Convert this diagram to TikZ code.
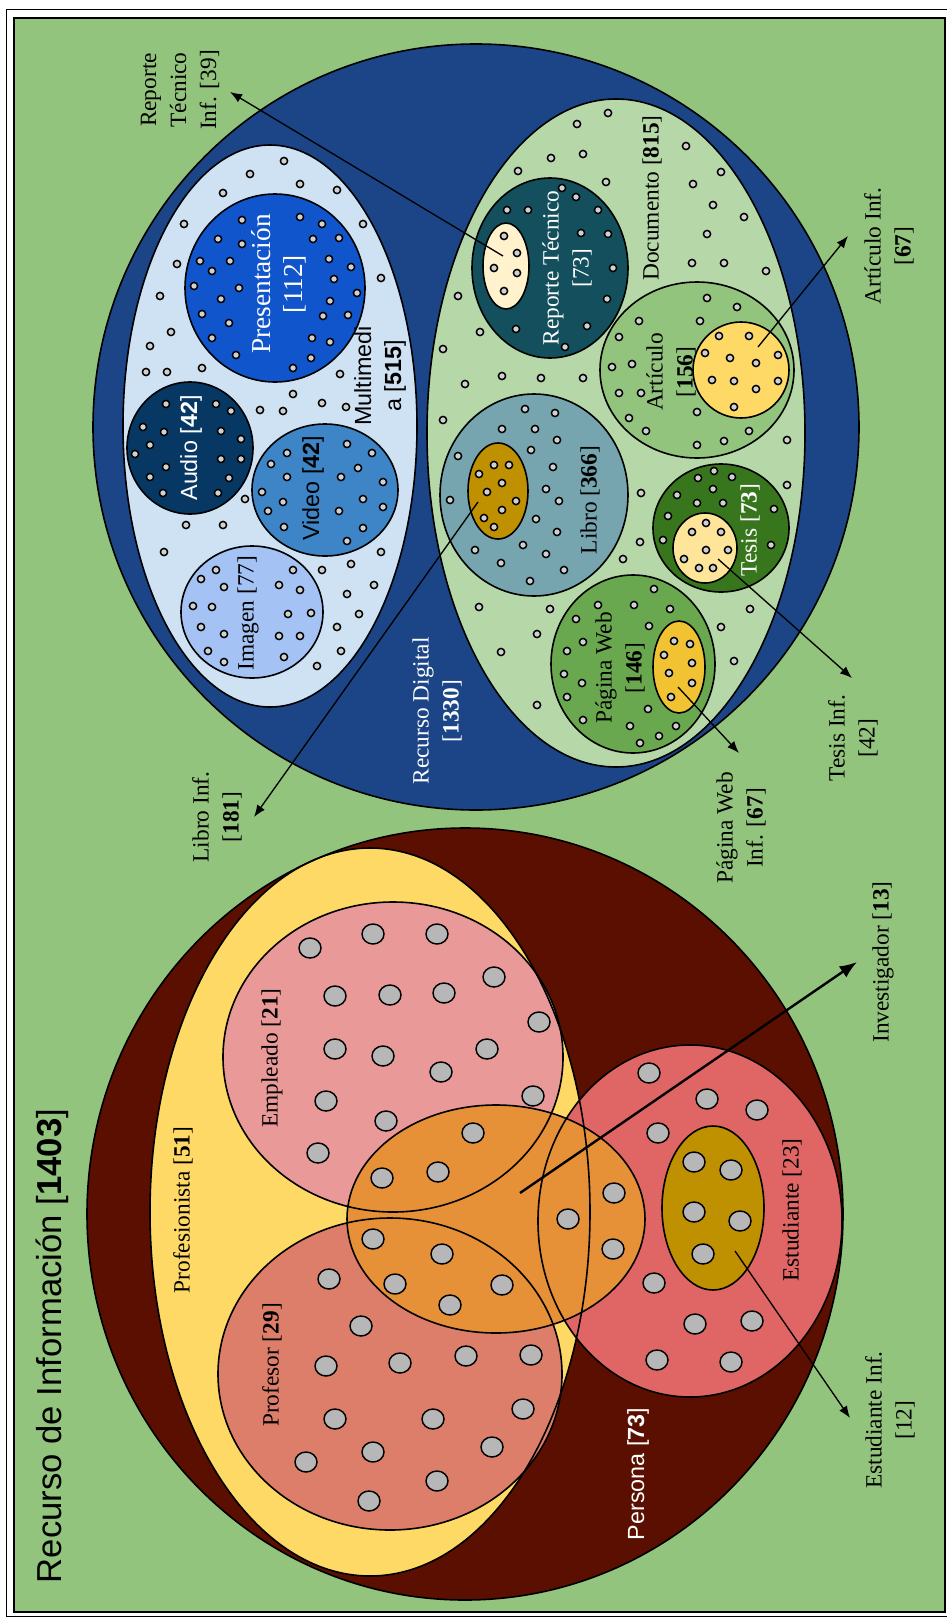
\documentclass[tikz,border=0pt]{standalone}
\usepackage{fontspec}
\setmainfont{Liberation Serif}
\setsansfont{Liberation Sans}
\usetikzlibrary{arrows.meta}
\definecolor{FondoClr}{HTML}{93C47D}
\definecolor{DigitalClr}{HTML}{1C4587}
\definecolor{MultiClr}{HTML}{CFE2F3}
\definecolor{PresClr}{HTML}{1155CC}
\definecolor{AudioClr}{HTML}{073763}
\definecolor{VideoClr}{HTML}{3D85C6}
\definecolor{ImagenClr}{HTML}{A4C2F4}
\definecolor{DocClr}{HTML}{B6D7A8}
\definecolor{ReporteClr}{HTML}{134F5C}
\definecolor{RepInfClr}{HTML}{FFF2CC}
\definecolor{ArticuloClr}{HTML}{93C47D}
\definecolor{ArtInfClr}{HTML}{FFD966}
\definecolor{LibroClr}{HTML}{76A5AF}
\definecolor{LibInfClr}{HTML}{BF9000}
\definecolor{TesisClr}{HTML}{38761D}
\definecolor{TesInfClr}{HTML}{FFE599}
\definecolor{PaginaClr}{HTML}{6AA84F}
\definecolor{PagInfClr}{HTML}{F1C232}
\definecolor{PersonaClr}{HTML}{5B0F00}
\definecolor{ProfesionistaClr}{HTML}{FFD966}
\definecolor{EmpleadoClr}{HTML}{EA9999}
\definecolor{ProfesorClr}{HTML}{DD7E6B}
\definecolor{EstudianteClr}{HTML}{E06666}
\definecolor{InvestigadorClr}{HTML}{E69138}
\definecolor{EstInfClr}{HTML}{BF9000}
\definecolor{PtoClr}{HTML}{D0D0D0}
\definecolor{PtoGClr}{HTML}{B7B7B7}
\newcommand{\lblsize}{\fontsize{17.5}{22.5}\selectfont}
\newcommand{\titsize}{\fontsize{26}{30}\selectfont}
\newcommand{\pressize}{\fontsize{20.5}{24}\selectfont}

\begin{document}
\begin{tikzpicture}[x=0.75pt,y=-0.75pt,
  conj/.style={draw=black,line width=1.2pt},
  pto/.style={draw=black,fill=PtoClr,line width=1.1pt},
  ptog/.style={draw=black,fill=PtoGClr,line width=1.1pt},
  lbl/.style={rotate=90,align=center,inner sep=0pt,font=\lblsize},
  lblsf/.style={rotate=90,align=center,inner sep=0pt,font=\sffamily\lblsize},
  inf/.style={line width=1pt,-{Latex[length=9pt,width=7pt]}},
  infg/.style={line width=1.8pt,-{Latex[length=13pt,width=10pt]}}]
\useasboundingbox (0,0) rectangle (946,1617);
\draw[fill=white,line width=0.6pt] (6,9) rectangle (960,1616);
\draw[fill=FondoClr,line width=1.2pt] (14,18) rectangle (945,1612);

% Recurso Digital
\filldraw[conj,fill=DigitalClr] (476,427) circle (383);
\filldraw[conj,fill=MultiClr] (270,426) ellipse (147 and 281);
\filldraw[conj,fill=PresClr] (275,288) ellipse (90 and 94);
\filldraw[conj,fill=AudioClr] (190,448) ellipse (63 and 66);
\filldraw[conj,fill=VideoClr] (325,490) ellipse (73 and 66);
\filldraw[conj,fill=ImagenClr] (252,612) ellipse (71 and 66);
\filldraw[conj,fill=DocClr] (616,433) ellipse (189 and 334);
\filldraw[conj,fill=ReporteClr] (550,268) ellipse (78 and 90);
\filldraw[conj,fill=RepInfClr] (506,266) ellipse (23 and 43);
\filldraw[conj,fill=ArticuloClr] (697,370) ellipse (97 and 88);
\filldraw[conj,fill=ArtInfClr] (741,370) ellipse (48 and 48);
\filldraw[conj,fill=LibroClr] (534,495) ellipse (94 and 101);
\filldraw[conj,fill=LibInfClr] (498,491) ellipse (30 and 48);
\filldraw[conj,fill=TesisClr] (721,528) ellipse (68 and 64);
\filldraw[conj,fill=TesInfClr] (705,548) ellipse (32 and 35);
\filldraw[conj,fill=PaginaClr] (633,664) ellipse (82 and 89);
\filldraw[conj,fill=PagInfClr] (679,667) ellipse (26 and 46);

% puntos pequenos
\foreach \x/\y in {284/161,250/174,300/184,337/190,223/193,184/224,363/224,177/264,381/278,
  160/296,171/332,150/346,146/372,167/372,202/368,340/374,293/394,260/410,283/411,322/403,
  346/407,245/499,186/525,223/525,164/552,381/552,322/570,351/564,374/585,347/594,359/614,
  337/627,341/651,317/666,
  242/220,218/239,242/244,200/261,230/261,212/271,194/286,239/288,221/299,202/314,229/323,
  212/338,236/355,300/217,322/224,313/239,339/238,329/259,351/267,334/279,357/293,330/301,
  323/316,348/315,312/338,330/342,311/358,293/368,
  166/404,216/404,231/411,143/427,164/432,221/431,241/439,150/445,135/454,221/459,241/459,
  166/467,150/477,229/478,163/493,218/493,
  287/453,347/444,372/453,271/464,358/468,287/477,341/477,383/482,262/492,363/499,283/502,
  383/507,268/511,339/511,284/527,363/528,347/541,
  216/570,201/579,293/570,224/587,279/585,300/590,193/606,212/607,288/614,311/613,201/627,
  224/634,279/636,300/636,208/651,224/662,284/657}
  \filldraw[pto] (\x,\y) circle (3.6);
\foreach \x/\y in {608/113,577/124,583/154,551/158,518/171,606/182,686/146,721/172,693/184,
  713/205,744/217,707/234,692/263,724/263,766/271,458/296,480/332,443/349,465/384,502/376,
  541/378,583/378,443/420,787/440,787/485,641/493,640/542,623/559,479/607,550/609,537/634,
  501/652,537/705,750/609,721/627,734/661,
  562/188,576/197,507/210,528/210,598/210,581/233,608/234,613/268,607/299,587/326,516/329,
  565/347,504/236,517/253,494/268,517/273,504/291,
  707/298,737/307,639/321,700/321,619/337,632/364,612/367,619/393,641/393,629/418,646/431,
  697/412,697/445,724/441,749/431,
  719/336,749/336,705/353,730/358,756/363,778/355,712/380,734/381,756/389,778/381,734/407,
  525/409,555/413,502/429,535/429,557/440,531/450,458/456,553/467,450/500,546/489,559/501,
  536/519,557/532,523/545,475/550,546/554,501/563,564/570,530/581,
  494/465,509/465,479/474,502/483,487/492,516/501,502/510,484/518,494/527,
  714/471,698/478,732/477,713/489,677/495,697/503,723/503,774/509,668/516,663/540,771/545,
  706/523,692/532,721/532,706/550,728/550,684/559,699/568,713/568,
  654/589,598/605,634/605,670/609,576/619,649/626,583/642,567/651,582/683,564/674,567/697,
  583/720,630/726,648/709,659/736,640/743,676/726,
  674/641,690/644,664/655,692/663,669/673,692/683,671/697}
  \filldraw[pto] (\x,\y) circle (3.6);

% Persona: primero rellenos, luego bordes
\foreach \cx/\cy/\rx/\ry/\clr in {465/1214/378/386/PersonaClr,370/1212/220/364/ProfesionistaClr,
  393/1057/170/155/EmpleadoClr,390/1374/172/156/ProfesorClr,690/1221/152/176/EstudianteClr,
  496/1219/149/114/InvestigadorClr,713/1208/51/82/EstInfClr}
  \fill[\clr] (\cx,\cy) ellipse [x radius=\rx, y radius=\ry];
\foreach \cx/\cy/\rx/\ry in {465/1214/378/386,370/1212/220/364,393/1057/170/155,
  390/1374/172/156,690/1221/152/176,496/1219/149/114,713/1208/51/82}
  \draw[conj] (\cx,\cy) ellipse [x radius=\rx, y radius=\ry];
\foreach \x/\y in {310/948,373/934,437/934,335/996,390/995,444/993,494/977,539/1022,335/1049,
  383/1056,441/1072,487/1049,533/1096,326/1101,386/1121,318/1153,473/1133,438/1172,382/1178,
  568/1219,614/1193,613/1249,502/1285,373/1239,442/1254,395/1284,450/1305,
  329/1279,361/1326,326/1366,400/1363,466/1356,531/1355,335/1419,433/1419,492/1447,523/1409,
  306/1462,373/1452,437/1481,369/1501,
  649/1073,707/1099,757/1110,658/1133,654/1283,695/1324,752/1321,657/1360,731/1362,
  694/1162,731/1170,694/1212,740/1221,703/1254}
  \filldraw[ptog] (\x,\y) ellipse (11 and 10);

% etiquetas
\node[lblsf,font=\sffamily\titsize] (titulo) at (52,1346) {Recurso de Informaci\'on [\textbf{1403}]};
\node[lbl] (profesionista) at (183,1210) {Profesionista [\textbf{51}]};
\node[lbl] (empleado) at (272,1058) {Empleado [\textbf{21}]};
\node[lbl] (profesor) at (272,1365) {Profesor [\textbf{29}]};
\node[lbl] (estudiante) at (792,1210) {Estudiante [23]};
\node[lblsf,white] (persona) at (638,1474) {Persona [\textbf{73}]};
\node[lbl] (investigador) at (883,962) {Investigador [\textbf{13}]};
\node[lbl] (estinf) at (890,1420) {Estudiante Inf.\\{}[12]};
\node[lbl] (repinf) at (180,90) {Reporte\\T\'ecnico\\Inf. [39]};
\node[lbl] (artinf) at (889,246) {Art\'iculo Inf.\\{}[\textbf{67}]};
\node[lbl] (documento) at (652,198) {Documento [\textbf{815}]};
\node[lbl,white] (reporte) at (567,268) {Reporte T\'ecnico\\{}[73]};
\node[lbl] (articulo) at (671,372) {Art\'iculo\\{}[\textbf{156}]};
\node[lbl] (libro) at (590,500) {Libro [\textbf{366}]};
\node[lbl,white] (tesis) at (750,530) {Tesis [\textbf{73}]};
\node[lbl] (pagina) at (620,668) {P\'agina Web\\{}[\textbf{146}]};
\node[lbl] (tesinf) at (853,738) {Tesis Inf.\\{}[42]};
\node[lbl] (paginf) at (741,828) {P\'agina Web\\Inf. [\textbf{67}]};
\node[lbl] (libinf) at (217,817) {Libro Inf.\\{}[\textbf{181}]};
\node[lbl,white] (digital) at (437,711) {Recurso Digital\\{}[\textbf{1330}]};
\node[lblsf] (multimedia) at (380,376) {Multimedi\\a [\textbf{515}]};
\node[lbl,white,font=\pressize] (presentacion) at (279,284) {Presentaci\'on\\{}[112]};
\node[lblsf,white] (audio) at (191,448) {Audio [\textbf{42}]};
\node[lblsf] (video) at (313,488) {Video [\textbf{42}]};
\node[lbl] (imagen) at (248,613) {Imagen [77]};

% flechas
\coordinate (repini) at (503,256);  \coordinate (repfin) at (230,92);
\coordinate (artini) at (758,347);  \coordinate (artfin) at (848,236);
\coordinate (libini) at (478,502);  \coordinate (libfin) at (254,817);
\coordinate (tesini) at (718,559);  \coordinate (tesfin) at (852,678);
\coordinate (pagini) at (678,687);  \coordinate (pagfin) at (739,753);
\coordinate (estini) at (735,1251); \coordinate (estfin) at (850,1418);
\coordinate (invini) at (520,1193); \coordinate (invfin) at (857,962);
\draw[inf] (repini) -- (repfin);
\draw[inf] (artini) -- (artfin);
\draw[inf] (libini) -- (libfin);
\draw[inf] (tesini) -- (tesfin);
\draw[inf] (pagini) -- (pagfin);
\draw[inf] (estini) -- (estfin);
\draw[infg] (invini) -- (invfin);
\end{tikzpicture}
\end{document}
